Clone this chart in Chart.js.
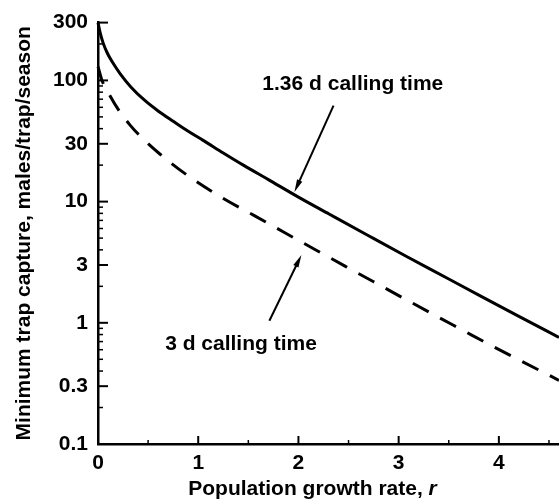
<!DOCTYPE html>
<html>
<head>
<meta charset="utf-8">
<script src="https://cdn.jsdelivr.net/npm/chart.js@4.4.0/dist/chart.umd.min.js"></script>
<style>
  html, body { margin: 0; padding: 0; background: #fff; }
</style>
</head>
<body>
<canvas id="chart" width="559" height="501"></canvas>
<script>
// Values (r vs minimum trap capture)
const rate136 = [0, 0.02, 0.05, 0.09, 0.14, 0.22, 0.33, 0.47, 0.6, 0.75, 0.9, 1.05, 1.25, 1.45, 1.7, 2.0, 2.31, 2.7, 3.07, 3.5, 3.8, 4.2, 4.6];
const capture136 = [300, 250, 205, 170, 143, 114, 88, 68, 56, 46, 38, 32, 25.2, 20, 15.2, 10.9, 7.87, 5.23, 3.56, 2.3, 1.69, 1.13, 0.757];

const rate3 = [0, 0.04, 0.1, 0.2, 0.32, 0.45, 0.62, 0.9, 1.26, 1.56, 1.86, 2.16, 2.46, 2.75, 3.04, 3.34, 3.63, 3.92, 4.6];
const capture3 = [130, 100, 80, 58, 42.8, 32.9, 24.6, 16.3, 10.5, 7.67, 5.56, 4.05, 2.95, 2.18, 1.61, 1.18, 0.877, 0.652, 0.335];

const xTicks = [0, 1, 2, 3, 4];
const xMinorTicks = [0.5, 1.5, 2.5, 3.5, 4.5];
const yTicks = [0.1, 0.3, 1, 3, 10, 30, 100, 300];

// log minor ticks between the labelled ones
const yMinorTicks = [];
[0.1, 1, 10, 100].forEach(d => {
    for (let k = 2; k <= 9; k++) {
        const v = +(d * k).toPrecision(3);
        if (v <= 300 && yTicks.indexOf(v) < 0) yMinorTicks.push(v);
    }
});

// callouts, in data coordinates
const notes = [
    { text: '1.36 d calling time', x: 1.64, y: 93, from: [2.35, 62], to: [1.96, 12.0] },
    { text: '3 d calling time', x: 0.67, y: 0.67, from: [1.71, 1.04], to: [2.03, 3.63] }
];

const FONT = 'Liberation Sans';
const SIZE = 21;

const pts = (xs, ys) => xs.map((x, i) => ({ x: x, y: ys[i] }));

// inward tick marks like the printed figure
const innerTicks = {
    id: 'innerTicks',
    afterDatasetsDraw(chart) {
        const { ctx, scales: { x, y }, chartArea: a } = chart;
        ctx.save();
        ctx.strokeStyle = '#000';
        ctx.lineWidth = 2;
        yTicks.forEach(v => {
            const py = y.getPixelForValue(v);
            ctx.beginPath(); ctx.moveTo(a.left, py); ctx.lineTo(a.left + 10, py); ctx.stroke();
        });
        ctx.lineWidth = 1.5;
        yMinorTicks.forEach(v => {
            const py = y.getPixelForValue(v);
            ctx.beginPath(); ctx.moveTo(a.left, py); ctx.lineTo(a.left + 5, py); ctx.stroke();
        });
        ctx.lineWidth = 2;
        xTicks.forEach(v => {
            const px = x.getPixelForValue(v);
            ctx.beginPath(); ctx.moveTo(px, a.bottom); ctx.lineTo(px, a.bottom - 8); ctx.stroke();
        });
        ctx.lineWidth = 1.5;
        xMinorTicks.forEach(v => {
            const px = x.getPixelForValue(v);
            ctx.beginPath(); ctx.moveTo(px, a.bottom); ctx.lineTo(px, a.bottom - 4); ctx.stroke();
        });
        ctx.restore();
    }
};

// x title with an italic r, a little left of centre as printed
const xTitle = {
    id: 'xTitle',
    afterDraw(chart) {
        const { ctx, chartArea: a } = chart;
        const main = 'Population growth rate, ';
        const sym = 'r';
        ctx.save();
        ctx.fillStyle = '#000';
        ctx.textBaseline = 'middle';
        ctx.textAlign = 'left';
        ctx.font = 'bold ' + SIZE + 'px "' + FONT + '"';
        const w1 = ctx.measureText(main).width;
        ctx.font = 'italic bold ' + SIZE + 'px "' + FONT + '"';
        const w2 = ctx.measureText(sym).width;
        const left = (a.left + a.right) / 2 - 16 - (w1 + w2) / 2;
        const cy = chart.height - 12;
        ctx.font = 'bold ' + SIZE + 'px "' + FONT + '"';
        ctx.fillText(main, left, cy);
        ctx.font = 'italic bold ' + SIZE + 'px "' + FONT + '"';
        ctx.fillText(sym, left + w1, cy);
        ctx.restore();
    }
};

const callouts = {
    id: 'callouts',
    afterDatasetsDraw(chart) {
        const { ctx, scales: { x, y } } = chart;
        ctx.save();
        ctx.fillStyle = '#000';
        ctx.strokeStyle = '#000';
        ctx.font = 'bold ' + SIZE + 'px "' + FONT + '"';
        ctx.textBaseline = 'middle';
        ctx.textAlign = 'left';
        notes.forEach(n => {
            ctx.fillText(n.text, x.getPixelForValue(n.x), y.getPixelForValue(n.y));
            const x0 = x.getPixelForValue(n.from[0]), y0 = y.getPixelForValue(n.from[1]);
            const x1 = x.getPixelForValue(n.to[0]), y1 = y.getPixelForValue(n.to[1]);
            const ang = Math.atan2(y1 - y0, x1 - x0);
            const head = 13, w = 0.22;
            ctx.lineWidth = 2;
            ctx.beginPath();
            ctx.moveTo(x0, y0);
            ctx.lineTo(x1 - Math.cos(ang) * head * 0.8, y1 - Math.sin(ang) * head * 0.8);
            ctx.stroke();
            ctx.beginPath();
            ctx.moveTo(x1, y1);
            ctx.lineTo(x1 - head * Math.cos(ang - w), y1 - head * Math.sin(ang - w));
            ctx.lineTo(x1 - head * Math.cos(ang + w), y1 - head * Math.sin(ang + w));
            ctx.closePath();
            ctx.fill();
        });
        ctx.restore();
    }
};

new Chart(document.getElementById('chart'), {
    type: 'line',
    data: {
        datasets: [{
            label: '1.36 d calling time',
            data: pts(rate136, capture136),
            borderColor: '#000',
            borderWidth: 3,
            pointRadius: 0,
            cubicInterpolationMode: 'monotone',
            fill: false
        }, {
            label: '3 d calling time',
            data: pts(rate3, capture3),
            borderColor: '#000',
            borderWidth: 3,
            borderDash: [18, 13],
            pointRadius: 0,
            cubicInterpolationMode: 'monotone',
            fill: false
        }]
    },
    options: {
        responsive: false,
        devicePixelRatio: 1,
        animation: false,
        clip: false,
        layout: { padding: { top: 20, right: 0, left: 0, bottom: 0 } },
        plugins: {
            legend: { display: false },
            tooltip: { enabled: false }
        },
        scales: {
            x: {
                type: 'linear',
                min: 0,
                max: 4.6,
                afterBuildTicks: s => { s.ticks = xTicks.map(v => ({ value: v })); },
                afterFit: s => { s.height = 57; },
                grid: { display: false, drawTicks: false },
                border: { display: true, color: '#000', width: 2.5 },
                ticks: {
                    color: '#000',
                    padding: 7,
                    maxRotation: 0,
                    font: { family: FONT, size: SIZE, weight: 'bold' },
                    callback: v => String(v)
                },
                title: { display: false }
            },
            y: {
                type: 'logarithmic',
                min: 0.1,
                max: 300,
                afterBuildTicks: s => { s.ticks = yTicks.map(v => ({ value: v })); },
                afterFit: s => { s.width = 98; },
                grid: { display: false, drawTicks: false },
                border: { display: true, color: '#000', width: 2.5 },
                ticks: {
                    color: '#000',
                    padding: 10,
                    font: { family: FONT, size: SIZE, weight: 'bold' },
                    callback: v => String(v)
                },
                title: {
                    display: true,
                    text: 'Minimum trap capture, males/trap/season',
                    color: '#000',
                    font: { family: FONT, size: SIZE, weight: 'bold' },
                    padding: { top: 12, bottom: 0 }
                }
            }
        }
    },
    plugins: [innerTicks, callouts, xTitle]
});
</script>
</body>
</html>
